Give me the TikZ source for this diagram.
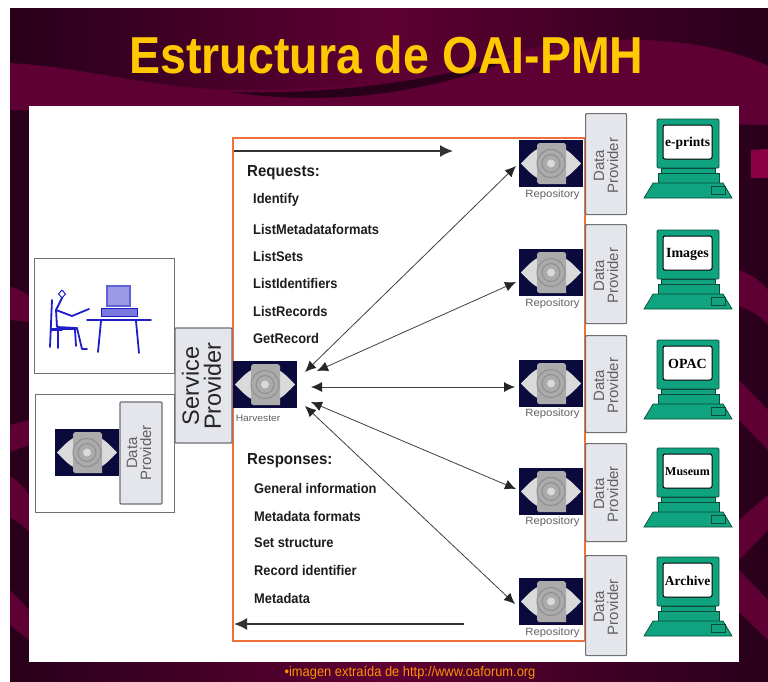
\documentclass[tikz,border=0pt]{standalone}
\usepackage{fontspec}
\setmainfont{Liberation Sans}
\newfontfamily\termfont{Liberation Serif}
\usetikzlibrary{arrows.meta}
\definecolor{bgdark}{HTML}{28001A}
\definecolor{bgmar}{HTML}{5E0033}
\definecolor{bgbright}{HTML}{8A0045}
\definecolor{titley}{HTML}{FFC800}
\definecolor{orangeln}{HTML}{F0703C}
\definecolor{boxfill}{HTML}{E4E6EC}
\definecolor{boxln}{HTML}{6E7072}
\definecolor{navy}{HTML}{0A0A3C}
\definecolor{eyel}{HTML}{DADADA}
\definecolor{eyem}{HTML}{ABABAB}
\definecolor{eyed}{HTML}{8E8E8E}
\definecolor{termg}{HTML}{0FA37F}
\definecolor{termd}{HTML}{0A4A3A}
\definecolor{userb}{HTML}{1E1EC8}
\definecolor{txtk}{HTML}{1C1C1C}
\tikzset{
 x=1pt,y=-1pt,
 panel/.style={draw=boxln,line width=1pt,fill=white},
 provbox/.style={draw=boxln,line width=1.2pt,fill=boxfill,rounded corners=1pt},
 provtxt/.style={rotate=90,align=center,text=black!62,font=\fontsize{15}{14}\selectfont,inner sep=0},
 head/.style={anchor=west,inner sep=0,font=\fontsize{16}{16}\bfseries\selectfont,text=txtk,xscale=.94},
 item/.style={anchor=west,inner sep=0,font=\fontsize{14}{14}\bfseries\selectfont,text=txtk,xscale=.92},
 tinylab/.style={inner sep=0,font=\fontsize{10.5}{11}\selectfont,text=black!62,xscale=1.08},
 dblarrow/.style={draw=black!75,line width=.8pt,{Latex[length=11pt,width=10pt,black!85]}-{Latex[length=11pt,width=10pt,black!85]}},
 flowarrow/.style={draw=black!80,line width=1.6pt,-{Latex[length=13pt,width=12pt]}},
 userline/.style={draw=userb,line width=1.8pt,line cap=round,line join=round},
 pics/eye/.style={code={
   \fill[navy] (0,0) rectangle (64,47);
   \fill[eyel] (2,23.5) .. controls (8,17) and (14,11) .. (20,8) -- (44,8) .. controls (50,11) and (56,17) .. (62,23.5) .. controls (56,30) and (50,36) .. (44,39) -- (20,39) .. controls (14,36) and (8,30) .. (2,23.5) -- cycle;
   \fill[eyem] (20,3) -- (45,3) -- (47,5) -- (47,44) -- (20,44) -- (18,42) -- (18,5) -- cycle;
   \draw[eyed,line width=1pt] (32,23.5) circle (14);
   \draw[eyed,line width=1pt] (32,23.5) circle (9);
   \fill[eyel] (32,23.5) circle (4);
 }},
 pics/term/.style={code={
   \fill[termg,draw=termd,line width=.7pt,rounded corners=1pt] (14,0) rectangle (76,49);
   \fill[white,draw=black,line width=1pt,rounded corners=2pt] (20,6) rectangle (69,40);
   \fill[termg,draw=termd,line width=.7pt] (18,49) rectangle (72,54);
   \fill[termg,draw=termd,line width=.7pt] (15,54) rectangle (76,64);
   \fill[termg,draw=termd,line width=.7pt] (10,64) -- (80,64) -- (89,79) -- (1,79) -- cycle;
   \draw[termd,line width=.6pt] (68,67) rectangle (82,75);
 }}
}
\begin{document}
\begin{tikzpicture}
\useasboundingbox (0,0) rectangle (768,681);
% background
\fill[white] (0,0) rectangle (768,681);
\shade[left color=bgdark,right color=bgmar] (10,8) rectangle (384,681);
\shade[left color=bgmar,right color=bgdark] (384,8) rectangle (768,681);
% wave band
\fill[bgmar] (10,63) .. controls (90,68) and (150,88) .. (230,90) .. controls (320,92) and (420,80) .. (540,47) .. controls (620,34) and (710,38) .. (768,66) -- (768,125) -- (10,110) -- cycle;
\fill[bgdark] (230,92) .. controls (320,95) and (420,84) .. (520,56) .. controls (440,90) and (340,108) .. (230,92) -- cycle;
% left side stripes
\fill[bgmar] (10,287) .. controls (18,288) and (24,292) .. (29,296) -- (29,322) -- (10,320) -- cycle;
\fill[bgmar] (10,425) -- (29,420) -- (29,445) -- (10,452) -- cycle;
\fill[bgmar] (10,476) .. controls (18,480) and (24,488) .. (29,494) -- (29,532) .. controls (22,524) and (16,520) .. (10,518) -- cycle;
\fill[bgmar] (10,590) -- (29,610) -- (29,640) -- (10,625) -- cycle;
% right side stripes
\fill[bgbright] (751,150) -- (768,149) -- (768,178) -- (751,178) -- cycle;
\fill[bgmar] (739,270) .. controls (750,274) and (760,280) .. (768,290) -- (768,325) .. controls (760,315) and (750,310) .. (739,306) -- cycle;
\fill[bgmar] (739,380) -- (768,410) -- (768,450) -- (739,420) -- cycle;
\fill[bgmar] (739,520) -- (768,495) -- (768,530) -- (739,560) -- cycle;
\fill[bgmar] (739,570) -- (768,600) -- (768,640) -- (739,612) -- cycle;
% panel
\fill[white] (29,106) rectangle (739,662);
% title
\node[inner sep=0,text=titley,font=\fontsize{52}{52}\bfseries\selectfont,xscale=.894] (title) at (386.5,55) {Estructura de OAI-PMH};
% footer
\node[inner sep=0,text=orange!85!yellow,font=\fontsize{14}{14}\selectfont,xscale=.92] (foot) at (410,673) {•imagen extraída de http://www.oaforum.org};
% orange frame
\draw[orangeln,line width=2pt] (233,138) rectangle (585,641);
% left boxes
\node[panel,minimum width=140pt,minimum height=115pt,inner sep=0] (userbox) at (104,315.5) {};
\node[panel,minimum width=139pt,minimum height=118pt,inner sep=0] (dpbox) at (104.5,453) {};
\node[provbox,minimum width=57pt,minimum height=115pt,inner sep=0] (sp) at (203.5,385.5) {};
\node[rotate=90,align=center,inner sep=0,text=black!85,font=\fontsize{23.5}{22}\selectfont] (sptxt) at (201.5,386) {Service\\Provider};
\node[provbox,minimum width=42pt,minimum height=102pt,inner sep=0] (dpin) at (141,453) {};
\node[provtxt] (dpintxt) at (139,453) {Data\\Provider};
\pic at (55,429) {eye};
% user
\draw[userline] (52,300) -- (50,347);
\draw[userline] (51,329) -- (76,329) (51,330) -- (62,330) (58,330) -- (58,348) (75,330) -- (76,346);
\draw[userline,line width=1pt] (62,290) -- (65.5,294) -- (62,298) -- (58.5,294) -- cycle;
\draw[userline] (62,298) -- (56,310) -- (57,327) -- (77,328) -- (82,349) -- (87,349);
\draw[userline] (56,310) -- (72,316) -- (89,309);
\draw[userline] (87,320) -- (151,320) (101,321) -- (98,352) (136,321) -- (139,353);
\fill[userb!60,draw=userb,line width=1pt] (101,308) rectangle (137,316);
\draw[userb!70,fill=white,line width=1.5pt] (107,286) rectangle (130,306);
\fill[userb!45] (108,287) rectangle (129,305);
% data providers, repositories, terminals
\foreach \nm/\by/\bh/\ey/\ly/\ty/\lab/\fn in {
 a/113/101/140/195/119/e-prints/13.5,
 b/224/99/249/304/230/Images/14,
 c/335/97/360/414/340/OPAC/14,
 d/443/98/468/522/448/Museum/12,
 e/555/100/578/633/557/Archive/13.5}{
  \node[provbox,anchor=north west,minimum width=41pt,minimum height=\bh pt,inner sep=0] (prov\nm) at (585,\by) {};
  \node[provtxt,xshift=-1.5pt] (provt\nm) at (prov\nm.center) {Data\\Provider};
  \pic at (519,\ey) {eye};
  \coordinate (repo\nm) at (519,\ey+24);
  \node[tinylab] (rlab\nm) at (552.5,\ly) {Repository};
  \pic at (643,\ty) {term};
  \node[inner sep=0,font=\termfont\fontsize{\fn}{\fn}\bfseries\selectfont,text=black] (tlab\nm) at (687.5,\ty+24) {\lab};
}
% harvester
\pic at (233,361) {eye};
\node[tinylab,font=\fontsize{9.5}{10}\selectfont] (hvlab) at (258,418) {Harvester};
\coordinate (ha) at (305,372);
\coordinate (hb) at (317,371);
\coordinate (hc) at (311,387);
\coordinate (hd) at (311,402);
\coordinate (he) at (305,406);
\coordinate (ra) at (516,166);
\coordinate (rb) at (516,282);
\coordinate (rc) at (515,387);
\coordinate (rd) at (516,489);
\coordinate (re) at (515,604);
\draw[dblarrow] (ha) -- (ra);
\draw[dblarrow] (hb) -- (rb);
\draw[dblarrow] (hc) -- (rc);
\draw[dblarrow] (hd) -- (rd);
\draw[dblarrow] (he) -- (re);
% flow arrows
\coordinate (tl) at (234,151);
\coordinate (tr) at (453,151);
\coordinate (bl) at (234,624);
\coordinate (br) at (464,624);
\draw[flowarrow] (tl) -- (tr);
\draw[flowarrow] (br) -- (bl);
% text
\node[head] (req) at (247,173) {Requests:};
\node[item] (i1) at (253,200) {Identify};
\node[item] (i2) at (253,229) {ListMetadataformats};
\node[item] (i3) at (253,256) {ListSets};
\node[item] (i4) at (253,283) {ListIdentifiers};
\node[item] (i5) at (253,311) {ListRecords};
\node[item] (i6) at (253,338) {GetRecord};
\node[head] (resp) at (247,461) {Responses:};
\node[item] (r1) at (254,488) {General information};
\node[item] (r2) at (254,516) {Metadata formats};
\node[item] (r3) at (254,543) {Set structure};
\node[item] (r4) at (254,570) {Record identifier};
\node[item] (r5) at (254,598) {Metadata};
\end{tikzpicture}
\end{document}
